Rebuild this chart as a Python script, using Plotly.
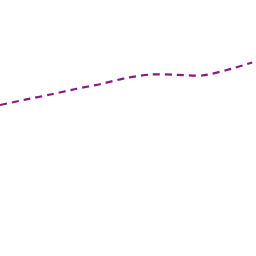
import plotly.graph_objects as go

x_vals = [0, 1, 2, 3, 4, 5, 6, 7, 8, 9, 10]
y_vals = [151, 156.3, 161.5, 167, 172, 178, 181.5, 181.2, 180.5, 186, 193.5]

fig = go.Figure(go.Scatter(
    x=x_vals, y=y_vals, mode="lines",
    line=dict(color="#8a1a7c", width=2.2, dash="7px,5px", shape="spline", smoothing=0.8),
))
fig.update_layout(
    width=256, height=256, margin=dict(l=0, r=0, t=0, b=0),
    paper_bgcolor="white", plot_bgcolor="white", showlegend=False,
    xaxis=dict(visible=False, range=[0, 10.15]),
    yaxis=dict(visible=False, range=[0, 256]),
)
fig.write_html("out.html")
